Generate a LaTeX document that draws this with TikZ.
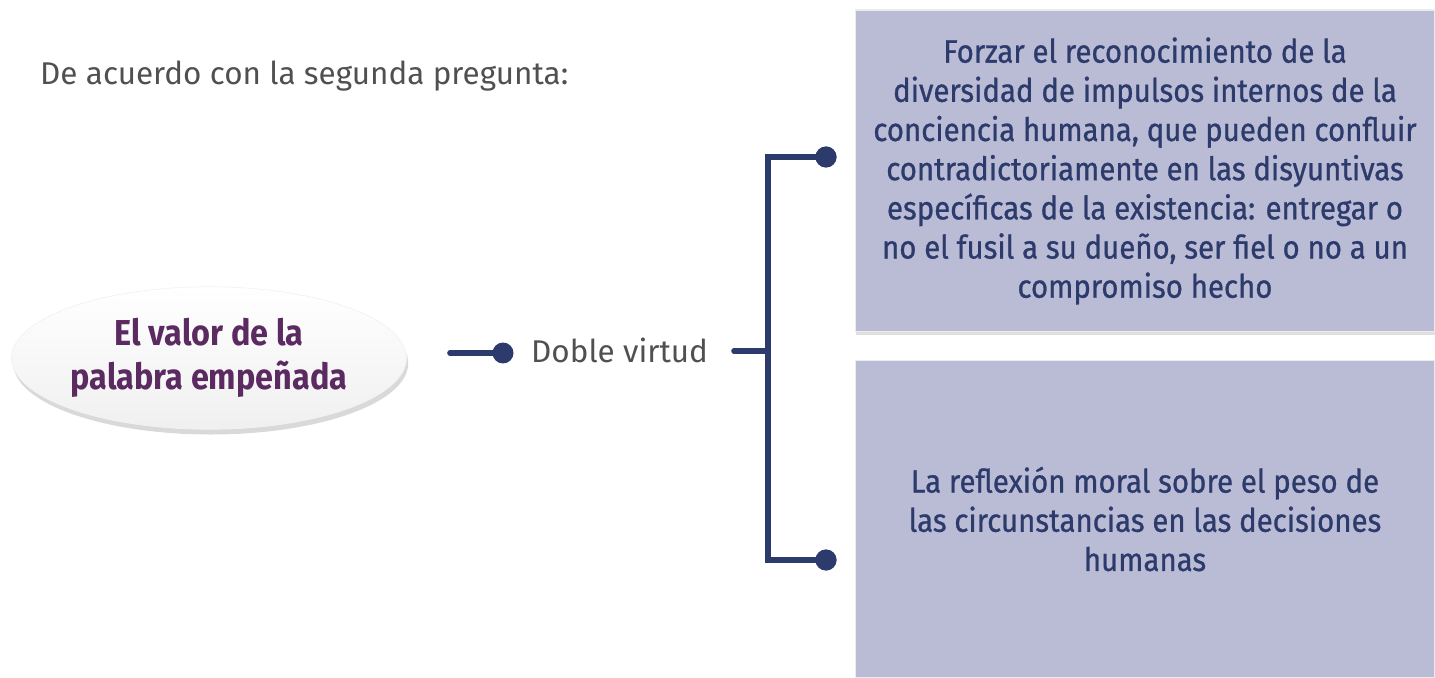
\documentclass[tikz,border=0pt]{standalone}
\usepackage{fontspec}
\setmainfont{Fira Sans}
\newfontfamily\boxfont[FakeStretch=0.91,FakeBold=0.8]{Fira Sans}
\newfontfamily\temafont[FakeStretch=0.9]{Fira Sans}
\usetikzlibrary{shapes.geometric,shadows}

\definecolor{navy}{HTML}{2C3A6C}
\definecolor{plum}{HTML}{5B2A60}
\definecolor{lila}{HTML}{BABCD5}
\definecolor{txtgray}{HTML}{505050}

\tikzset{
  dot/.style={circle,fill=navy,inner sep=0pt,minimum size=0.42cm},
  link/.style={draw=navy,line width=3.2pt,line cap=round},
  idea/.style={rectangle,fill=lila,draw=gray!15,line width=0.6pt,
    minimum width=11.6cm,align=center,text=navy,
    font=\boxfont\fontsize{18.4}{22.3}\selectfont,
    drop shadow={shadow xshift=0.5pt,shadow yshift=-1.5pt,opacity=0.25}},
  tema/.style={ellipse,minimum width=7.9cm,minimum height=2.85cm,inner sep=0pt,
    top color=white,bottom color=gray!12,draw=gray!10,
    align=center,text=plum,font=\temafont\bfseries\fontsize{20.5}{25}\selectfont,
    drop shadow={shadow xshift=1pt,shadow yshift=-3pt,opacity=0.3}},
  plain/.style={anchor=west,text=txtgray,font=\fontsize{17.9}{21}\selectfont},
}

\begin{document}
\begin{tikzpicture}[x=0.02cm,y=-0.02cm]
  \useasboundingbox (0,0) rectangle (1435,678);

  % heading
  \node[plain] (head) at (34,76) {De acuerdo con la segunda pregunta:};

  % central topic
  \node[tema] (topic) at (209,358) {El valor de la\\palabra empeñada};

  % branch
  \coordinate (s0) at (450,353);
  \node[dot] (d0) at (503,353) {};
  \node[plain] (virtud) at (525,350) {Doble virtud};
  \coordinate (s1) at (734,351);
  \coordinate (jn) at (768,351);
  \node[dot] (d1) at (826,157) {};
  \node[dot] (d2) at (826,560) {};

  \draw[link] (s0) -- (d0.center);
  \draw[link] (s1) -- (jn);
  \draw[navy,line width=3.2pt] (d1.center) -| (jn) |- (d2.center);
  \node[dot] at (d1) {};
  \node[dot] at (d2) {};

  % boxes
  \node[idea,minimum height=6.44cm] (b1) at (1145,171)
    {Forzar el reconocimiento de la\\
     diversidad de impulsos internos de la\\
     conciencia humana, que pueden confluir\\
     contradictoriamente en las disyuntivas\\
     específicas de la existencia: entregar o\\
     no el fusil a su dueño, ser fiel o no a un\\
     compromiso hecho};
  \node[idea,minimum height=6.36cm] (b2) at (1145,519)
    {La reflexión moral sobre el peso de\\
     las circunstancias en las decisiones\\
     humanas};
\end{tikzpicture}
\end{document}
